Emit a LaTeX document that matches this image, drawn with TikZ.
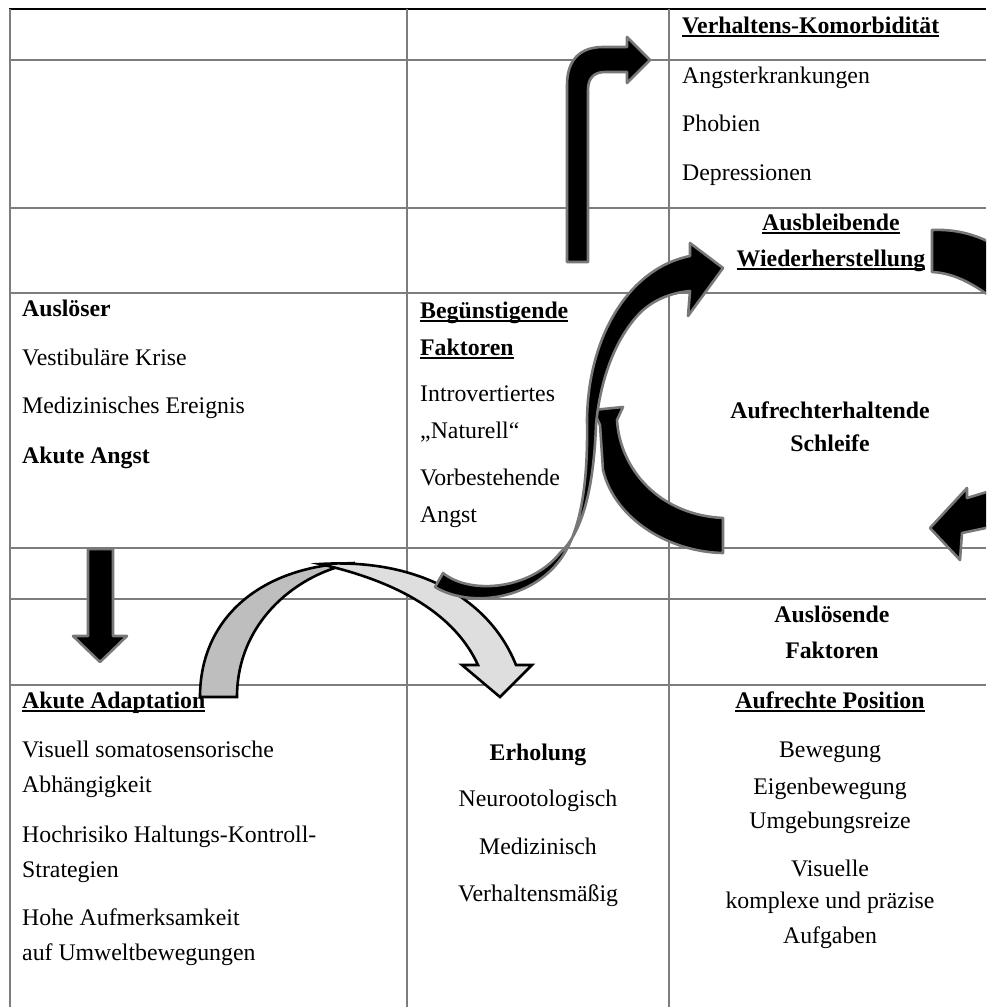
\documentclass[tikz,border=0pt]{standalone}
\usepackage{fontspec}
\setmainfont{Liberation Serif}
\usetikzlibrary{positioning}

\definecolor{gridgray}{RGB}{125,125,125}
\definecolor{rimgray}{RGB}{120,120,120}
\definecolor{darkfill}{RGB}{190,190,190}
\definecolor{lightfill}{RGB}{222,222,222}

\newcommand{\ulbold}[1]{\setbox0=\hbox{\bfseries #1}\rlap{\rule[-3.6pt]{\wd0}{1.6pt}}\box0}

\tikzset{
  txt/.style={anchor=base west, inner sep=0pt, font=\fontsize{23.8}{28}\selectfont},
  ctxt/.style={anchor=base, inner sep=0pt, font=\fontsize{23.8}{28}\selectfont},
  gridline/.style={draw=gridgray, line width=1.3pt},
  blackarrow/.style={fill=black, draw=rimgray, line width=2.6pt, line join=round},
  grayarrow/.style={draw=black, line width=2.6pt, line join=miter}
}

\begin{document}
\begin{tikzpicture}[x=1pt, y=-1pt]

    \useasboundingbox (0,0) rectangle (986,1007);
    \clip (0,0) rectangle (986,1007);

    % table
    \draw[line width=2pt] (9,9) -- (986,9);
    \foreach \y in {60,208,293,548,599,685}
        \draw[gridline] (10,\y) -- (986,\y);
    \foreach \x in {10,407,669}
        \draw[gridline] (\x,9) -- (\x,1007);

    % right column
    \node[txt] (komorb) at (682,33) {\ulbold{Verhaltens-Komorbidität}};
    \node[txt] (angster) at (682,83) {Angsterkrankungen};
    \node[txt] (phob) at (682,131) {Phobien};
    \node[txt] (depr) at (682,180) {Depressionen};
    \node[ctxt] (ausbl) at (831,230) {\ulbold{Ausbleibende}};
    \node[ctxt] (wieder) at (831,266) {\ulbold{Wiederherstellung}};
    \node[ctxt] (aufrecht) at (830,418) {\bfseries Aufrechterhaltende};
    \node[ctxt] (schleife) at (830,451) {\bfseries Schleife};
    \node[ctxt] (ausloes) at (832,622) {\bfseries Auslösende};
    \node[ctxt] (faktor) at (832,658) {\bfseries Faktoren};
    \node[ctxt] (position) at (830,708) {\ulbold{Aufrechte Position}};
    \node[ctxt] (beweg) at (830,757) {Bewegung};
    \node[ctxt] (eigen) at (830,794) {Eigenbewegung};
    \node[ctxt] (umgeb) at (830,828) {Umgebungsreize};
    \node[ctxt] (visuelle) at (830,876) {Visuelle};
    \node[ctxt] (komplex) at (830,908) {komplexe und präzise};
    \node[ctxt] (aufgab) at (830,943) {Aufgaben};

    % middle column
    \node[txt] (beguen) at (420,318) {\ulbold{Begünstigende}};
    \node[txt] (bfaktor) at (420,355) {\ulbold{Faktoren}};
    \node[txt] (intro) at (420,401) {Introvertiertes};
    \node[txt] (naturell) at (420,438) {„Naturell“};
    \node[txt] (vorbest) at (420,485) {Vorbestehende};
    \node[txt] (angst) at (420,522) {Angst};
    \node[ctxt] (erhol) at (538,760) {\bfseries Erholung};
    \node[ctxt] (neuro) at (538,806) {Neurootologisch};
    \node[ctxt] (medi) at (538,854) {Medizinisch};
    \node[ctxt] (verh) at (538,901) {Verhaltensmäßig};

    % left column
    \node[txt] (ausl) at (22,316) {\bfseries Auslöser};
    \node[txt] (vest) at (22,365) {Vestibuläre Krise};
    \node[txt] (medereig) at (22,413) {Medizinisches Ereignis};
    \node[txt] (akangst) at (22,463) {\bfseries Akute Angst};
    \node[txt] (adapt) at (22,708) {\ulbold{Akute Adaptation}};
    \node[txt] (visu) at (22,757) {Visuell somatosensorische};
    \node[txt] (abh) at (22,792) {Abhängigkeit};
    \node[txt] (hochr) at (22,842) {Hochrisiko Haltungs-Kontroll-};
    \node[txt] (strat) at (22,877) {Strategien};
    \node[txt] (hohe) at (22,925) {Hohe Aufmerksamkeit};
    \node[txt] (umwelt) at (22,960) {auf Umweltbewegungen};

    % arrows
    \draw[blackarrow] (567,262) -- (567,85) .. controls (567,60) and (580,47) .. (603,47)
        -- (627,47) -- (627,37) -- (650,60) -- (627,83) -- (627,72) -- (605,72)
        .. controls (594,72) and (588,78) .. (588,90) -- (588,262) -- cycle;

    \draw[blackarrow] (88,549) -- (113,549) -- (113,636) -- (127,636) -- (100,662)
        -- (73,636) -- (88,636) -- cycle;

    \draw[grayarrow, fill=darkfill] (200,697) .. controls (200,615) and (265,565) .. (355,563)
        .. controls (300,572) and (237,620) .. (237,697) -- cycle;
    \draw[grayarrow, fill=lightfill] (320,564) .. controls (420,558) and (490,600) .. (516,665)
        -- (532,665) -- (500,697) -- (462,665) -- (478,665)
        .. controls (455,615) and (400,582) .. (320,564) -- cycle;

    \draw[blackarrow] (723,518) -- (723,553) .. controls (670,552) and (615,520) .. (603,470)
        -- (600,425) -- (593,410) -- (623,407) -- (617,420)
        .. controls (620,470) and (660,515) .. (723,518) -- cycle;

    \draw[blackarrow] (435,587) .. controls (470,608) and (530,600) .. (560,560)
        .. controls (582,530) and (588,480) .. (587,420)
        .. controls (588,335) and (630,268) .. (690,256) -- (690,243) -- (723,268)
        -- (688,316) -- (690,291) .. controls (668,293) and (650,302) .. (638,315)
        .. controls (615,340) and (600,380) .. (596,425)
        .. controls (594,480) and (585,530) .. (560,553)
        .. controls (530,590) and (470,595) .. (443,573) -- cycle;

    \draw[blackarrow] (932,230) .. controls (955,229) and (975,234) .. (995,245)
        -- (995,300) .. controls (975,285) and (955,273) .. (932,272) -- cycle;
    \draw[blackarrow] (1000,488) -- (967,498) -- (967,488) -- (930,528) -- (960,560)
        -- (962,533) -- (1000,525) -- cycle;

\end{tikzpicture}
\end{document}
